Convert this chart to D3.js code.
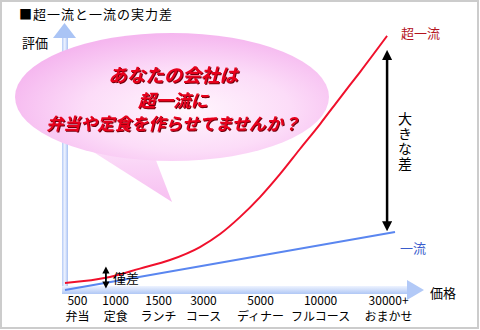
<!DOCTYPE html>
<html>
<head>
<meta charset="utf-8">
<script src="https://cdn.jsdelivr.net/npm/d3@7"></script>
<style>
  body { margin: 0; background: #fff; }
  svg { display: block; font-family: "Noto Sans CJK JP", "Noto Sans", sans-serif; }
</style>
</head>
<body>
<div id="chart"></div>
<script>
// price tiers along the bottom
var categories = ["弁当", "定食", "ランチ", "コース", "ディナー", "フルコース", "おまかせ"];
var priceLabels = ["500", "1000", "1500", "3000", "5000", "10000", "30000+"];
var tickPos = [3.6, 15.2, 28.2, 41.8, 59.1, 77.3, 97.9];

// 超一流 curve (x = position along price axis, y = 評価)
var topX = [0, 13.6, 22.7, 31.8, 40.9, 47.0, 53.0, 59.1, 65.2, 71.2, 77.3, 83.3, 89.4, 97.6];
var topY = [3.5, 5.8, 9.0, 12.3, 17.3, 22.3, 28.8, 36.5, 45.4, 55.0, 64.6, 74.6, 84.6, 98.5];

// 一流 line
var firstX = [0, 100];
var firstY = [0.8, 23.1];

var calloutLines = ["あなたの会社は", "超一流に", "弁当や定食を作らせてませんか？"];

var width = 480, height = 330;

var svg = d3.select("#chart").append("svg")
    .attr("width", width)
    .attr("height", height);

var defs = svg.append("defs");

var gy = defs.append("linearGradient").attr("id", "gy")
    .attr("x1", "0").attr("y1", "0").attr("x2", "1").attr("y2", "0");
gy.append("stop").attr("offset", "0").attr("stop-color", "#b4caf6");
gy.append("stop").attr("offset", "0.45").attr("stop-color", "#eef3ff");
gy.append("stop").attr("offset", "1").attr("stop-color", "#a9c2f3");

var gx = defs.append("linearGradient").attr("id", "gx")
    .attr("x1", "0").attr("y1", "0").attr("x2", "0").attr("y2", "1");
gx.append("stop").attr("offset", "0").attr("stop-color", "#eef3ff");
gx.append("stop").attr("offset", "1").attr("stop-color", "#b0c7f5");

var gb = defs.append("radialGradient").attr("id", "gb")
    .attr("cx", "0.55").attr("cy", "0.6").attr("r", "0.6");
gb.append("stop").attr("offset", "0").attr("stop-color", "#fff6fd");
gb.append("stop").attr("offset", "0.55").attr("stop-color", "#fcdcf8");
gb.append("stop").attr("offset", "1").attr("stop-color", "#f5b6ef");

var gt = defs.append("linearGradient").attr("id", "gt")
    .attr("x1", "0").attr("y1", "0").attr("x2", "0").attr("y2", "1");
gt.append("stop").attr("offset", "0").attr("stop-color", "#fde8fb");
gt.append("stop").attr("offset", "1").attr("stop-color", "#f7bff1");

// dark drop shadow for the balloon text
defs.append("filter").attr("id", "shadow")
    .attr("x", "-5%").attr("y", "-20%").attr("width", "110%").attr("height", "140%")
    .append("feDropShadow")
    .attr("dx", 1).attr("dy", 1).attr("stdDeviation", 0)
    .attr("flood-color", "#700010");

var x = d3.scaleLinear().domain([0, 100]).range([65, 395]);
var y = d3.scaleLinear().domain([0, 100]).range([292, 32]);

// frame
svg.append("rect")
    .attr("x", 1).attr("y", 1)
    .attr("width", 477).attr("height", 327)
    .attr("fill", "none")
    .attr("stroke", "#cccccc")
    .attr("stroke-width", 2);

svg.append("text")
    .attr("x", 19).attr("y", 19)
    .attr("font-size", 13)
    .attr("letter-spacing", 1)
    .attr("fill", "#000")
    .text("■超一流と一流の実力差");

// axis arrows
svg.append("rect").attr("x", 62).attr("y", 37).attr("width", 6).attr("height", 257).attr("fill", "url(#gy)");
svg.append("path").attr("d", "M53,38L64.5,23L76,38Z").attr("fill", "#aac4f5");
svg.append("rect").attr("x", 62).attr("y", 286).attr("width", 346).attr("height", 8).attr("fill", "url(#gx)");
svg.append("path").attr("d", "M407,280L424,290L407,300Z").attr("fill", "#b2c9f7");

svg.append("text").attr("x", 22).attr("y", 48).attr("font-size", 13).text("評価");
svg.append("text").attr("x", 430).attr("y", 298).attr("font-size", 13).text("価格");

// bottom axis: price + category
var xAxis = svg.append("g")
    .call(d3.axisBottom(x).tickValues(tickPos).tickSize(0)
        .tickFormat(function(d, i) { return priceLabels[i]; }));
xAxis.select(".domain").remove();
xAxis.selectAll(".tick text")
    .attr("fill", "#000")
    .attr("font-family", "\"Noto Sans CJK JP\", sans-serif")
    .attr("font-size", 12)
    .each(function(d, i) {
        var t = d3.select(this).text(null).attr("dy", null).attr("y", null);
        t.append("tspan").attr("x", 0).attr("y", 305).text(priceLabels[i]);
        t.append("tspan").attr("x", 0).attr("y", 321).text(categories[i]);
    });

// lines
var line = d3.line().curve(d3.curveMonotoneX)
    .x(function(d) { return x(d[0]); })
    .y(function(d) { return y(d[1]); });

svg.append("path")
    .attr("d", line(d3.zip(firstX, firstY)))
    .attr("fill", "none").attr("stroke", "#5a86f0").attr("stroke-width", 2);

svg.append("path")
    .attr("d", line(d3.zip(topX, topY)))
    .attr("fill", "none").attr("stroke", "#f0102c").attr("stroke-width", 2);

svg.append("text").attr("x", 401).attr("y", 38).attr("font-size", 13).attr("fill", "#b4141e").text("超一流");
svg.append("text").attr("x", 400).attr("y", 253).attr("font-size", 13).attr("fill", "#3a5ccc").text("一流");

// double arrows
defs.append("marker").attr("id", "ah")
    .attr("viewBox", "0 0 10 10").attr("refX", 5).attr("refY", 5)
    .attr("markerWidth", 4).attr("markerHeight", 4).attr("orient", "auto-start-reverse")
    .append("path").attr("d", "M0,0L10,5L0,10Z").attr("fill", "#000");

var bigX = x(97.6);
svg.append("line")
    .attr("x1", bigX).attr("x2", bigX)
    .attr("y1", y(98.5) + 19).attr("y2", y(22.6) - 7)
    .attr("stroke", "#000").attr("stroke-width", 2.5)
    .attr("marker-start", "url(#ah)").attr("marker-end", "url(#ah)");

svg.append("text")
    .attr("x", 405).attr("y", 112)
    .attr("font-size", 14)
    .attr("letter-spacing", 1)
    .style("writing-mode", "vertical-rl")
    .text("大きな差");

var smallX = x(12.4);
svg.append("line")
    .attr("x1", smallX).attr("x2", smallX)
    .attr("y1", 270).attr("y2", 285)
    .attr("stroke", "#000").attr("stroke-width", 1.8)
    .attr("marker-start", "url(#ah)").attr("marker-end", "url(#ah)");
svg.append("text").attr("x", 113).attr("y", 283).attr("font-size", 13).text("僅差");

// callout balloon
svg.append("path").attr("d", "M62,132L172,202L152,150Z").attr("fill", "url(#gt)");
svg.append("ellipse")
    .attr("cx", 172).attr("cy", 97).attr("rx", 157).attr("ry", 64)
    .attr("fill", "url(#gb)");

var sizes = [18.5, 17.5, 17];
var bases = [82, 107, 130];
calloutLines.forEach(function(s, i) {
    svg.append("text")
        .attr("x", 173).attr("y", bases[i])
        .attr("text-anchor", "middle")
        .attr("font-size", sizes[i])
        .attr("font-weight", "bold")
        .attr("font-style", "italic")
        .attr("fill", "#e8001c")
        .attr("filter", "url(#shadow)")
        .text(s);
});
</script>
</body>
</html>
